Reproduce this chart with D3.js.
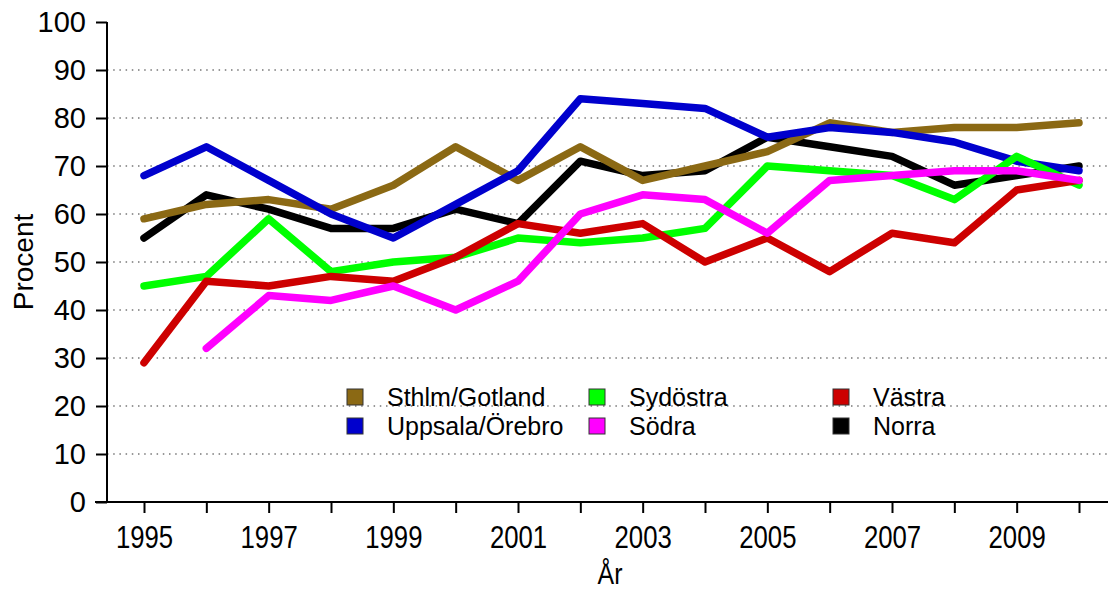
<!DOCTYPE html>
<html>
<head>
<meta charset="utf-8">
<script src="https://cdn.jsdelivr.net/npm/d3@7"></script>
<style>
  html, body { margin: 0; padding: 0; background: #fff; }
  svg { display: block; font-family: "Liberation Sans", Arial, sans-serif; }
</style>
</head>
<body>
<svg id="chart" width="1108" height="591"></svg>
<script>
const years = [1995,1996,1997,1998,1999,2000,2001,2002,2003,2004,2005,2006,2007,2008,2009,2010];
const seriesNames = ["Sthlm/Gotland","Uppsala/Örebro","Sydöstra","Södra","Västra","Norra"];
const seriesColors = ["#8B6914","#0000CD","#00FF00","#FF00FF","#CD0000","#000000"];
const sthlmGotland  = [59,62,63,61,66,74,67,74,67,70,73,79,77,78,78,79];
const uppsalaOrebro = [68,74,67,60,55,62,69,84,83,82,76,78,77,75,71,69];
const sydostra      = [45,47,59,48,50,51,55,54,55,57,70,69,68,63,72,66];
const sodra         = [null,32,43,42,45,40,46,60,64,63,56,67,68,69,69,67];
const vastra        = [29,46,45,47,46,51,58,56,58,50,55,48,56,54,65,67];
const norra         = [55,64,61,57,57,61,58,71,68,69,76,74,72,66,68,70];
const yTicks = [0,10,20,30,40,50,60,70,80,90,100];
const yGrid = [10,20,30,40,50,60,70,80,90];
const xLabelYears = [1995,1997,1999,2001,2003,2005,2007,2009];

const seriesValues = [sthlmGotland, uppsalaOrebro, sydostra, sodra, vastra, norra];
const drawOrder = [5,0,1,2,4,3];

const svg = d3.select("#chart");
const x = d3.scaleLinear().domain([1995, 2010]).range([144, 1079]);
const y = d3.scaleLinear().domain([0, 100]).range([502, 22]);

// grid
svg.append("g").selectAll("line").data(yGrid).join("line")
  .attr("x1", 107).attr("x2", 1108)
  .attr("y1", d => y(d)).attr("y2", d => y(d))
  .attr("stroke", "#777").attr("stroke-width", 1.5)
  .attr("stroke-dasharray", "1.5,4.7");

// y axis
const yAxis = svg.append("g").attr("transform", "translate(107,0)")
  .call(d3.axisLeft(y).tickValues(yTicks).tickSize(11).tickPadding(10).tickFormat(d3.format("d")));
yAxis.selectAll("path,line").attr("stroke", "#000").attr("stroke-width", 2);
yAxis.select(".domain").attr("d", `M0,${y(100)}V${y(0)}`);
yAxis.selectAll("text").attr("font-size", 29).attr("fill", "#000")
  .attr("font-family", "Liberation Sans, Arial, sans-serif");

// x axis
const xAxis = svg.append("g").attr("transform", `translate(0,${y(0)})`)
  .call(d3.axisBottom(x).tickValues(years).tickSize(11).tickPadding(13)
    .tickFormat(d => xLabelYears.includes(d) ? String(d) : ""));
xAxis.selectAll("path,line").attr("stroke", "#000").attr("stroke-width", 2);
xAxis.select(".domain").attr("d", `M95,0H1108`);
xAxis.selectAll("text").attr("font-size", 31).attr("fill", "#000")
  .attr("font-family", "Liberation Sans, Arial, sans-serif")
  .attr("transform", "scale(0.83,1)");

// axis titles
svg.append("text").attr("x", 0).attr("y", 0)
  .attr("transform", "translate(610,584) scale(0.83,1)")
  .attr("text-anchor", "middle").attr("font-size", 30).text("År");
svg.append("text")
  .attr("transform", `translate(33,${y(50)}) rotate(-90)`)
  .attr("text-anchor", "middle").attr("font-size", 28).text("Procent");

// lines
const line = d3.line()
  .defined(d => d.v !== null)
  .x(d => x(d.year)).y(d => y(d.v));
drawOrder.forEach(i => {
  const data = years.map((yr, k) => ({year: yr, v: seriesValues[i][k]}));
  svg.append("path").datum(data)
    .attr("d", line)
    .attr("fill", "none")
    .attr("stroke", seriesColors[i])
    .attr("stroke-width", 7.5)
    .attr("stroke-linecap", "round")
    .attr("stroke-linejoin", "round");
});

// legend
const legCols = [347, 589, 833];
const legRows = [397, 426];
const leg = svg.append("g");
seriesNames.forEach((name, i) => {
  const cx = legCols[Math.floor(i / 2)];
  const cy = legRows[i % 2];
  leg.append("rect").attr("x", cx).attr("y", cy - 8).attr("width", 16).attr("height", 16)
    .attr("fill", seriesColors[i]).attr("stroke", "#333").attr("stroke-width", 1);
  leg.append("text").attr("x", cx + 40).attr("y", cy + 9)
    .attr("font-size", 25).attr("fill", "#000").text(name);
});
</script>
</body>
</html>
